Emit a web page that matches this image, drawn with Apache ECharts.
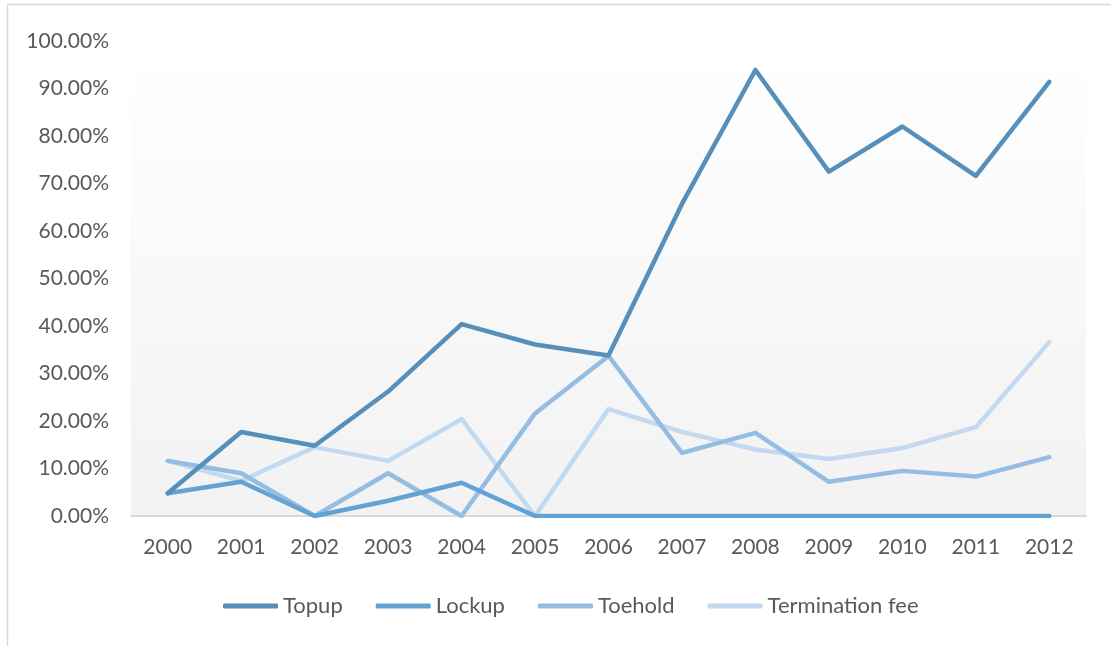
<!DOCTYPE html>
<html><head><meta charset="utf-8">
<script src="https://cdn.jsdelivr.net/npm/echarts@6/dist/echarts.min.js"></script>
<style>html,body{margin:0;padding:0;background:#fff}#c{width:1111px;height:646px}</style>
</head><body><div id="c"></div>
<script>
const years = ['2000','2001','2002','2003','2004','2005','2006','2007','2008','2009','2010','2011','2012'];
const topup = [0.048,0.177,0.148,0.262,0.404,0.361,0.338,0.657,0.939,0.725,0.820,0.716,0.914];
const lockup = [0.048,0.072,0.0,0.032,0.070,0.0,0.0,0.0,0.0,0.0,0.0,0.0,0.0];
const toehold = [0.116,0.090,0.0,0.090,0.0,0.216,0.337,0.133,0.175,0.072,0.095,0.083,0.124];
const termFee = [0.116,0.074,0.145,0.116,0.204,0.0,0.225,0.177,0.140,0.120,0.143,0.187,0.366];
const seriesNames = ['Topup','Lockup','Toehold','Termination fee'];
const colors = ['#578fbb','#63a3d4','#95bde4','#c3d9ef'];
const dataSets = [topup, lockup, toehold, termFee];
const FONT = 'Lato, "Open Sans", sans-serif';
const chart = echarts.init(document.getElementById('c'));
chart.setOption({
  animation: false,
  graphic: [{type:'rect', shape:{x:7.5,y:4.5,width:1110,height:660}, style:{fill:'none',stroke:'#d9d9d9',lineWidth:1.5}, z:-10}],
  grid: {left:131, right:25, top:41, bottom:130, show:true, borderWidth:0,
    backgroundColor: new echarts.graphic.LinearGradient(0,0,0,1,[{offset:0,color:'#ffffff'},{offset:1,color:'#f2f2f2'}])},
  legend: {top: 590, left: 218, itemWidth: 55, itemHeight: 5, itemGap: 33, icon: 'roundRect',
    data: seriesNames, textStyle:{fontFamily:FONT, fontSize:22, color:'#595959'}},
  xAxis: {type:'category', data: years, boundaryGap: true,
    axisLine:{lineStyle:{color:'#d9d9d9', width:2}}, axisTick:{show:false},
    axisLabel:{fontFamily:FONT, fontSize:21, color:'#595959', margin:21}},
  yAxis: {type:'value', min:0, max:1, interval:0.1, splitLine:{show:false}, axisLine:{show:false}, axisTick:{show:false},
    axisLabel:{fontFamily:FONT, fontSize:21, color:'#595959', margin:22, formatter: v => (v*100).toFixed(2)+'%'}},
  series: seriesNames.map((n,i)=>({name:n, type:'line', data:dataSets[i], showSymbol:false, symbol:'none',
    itemStyle:{color:colors[i]}, lineStyle:{color:colors[i], width:4.5, join:'round', cap:'round'}, z: 10-i}))
});
</script></body></html>
